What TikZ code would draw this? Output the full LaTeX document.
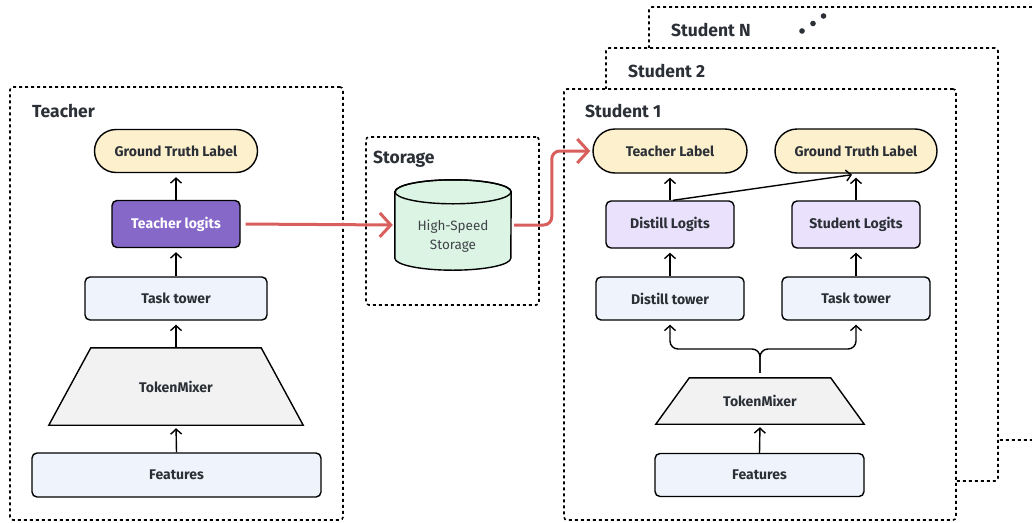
\documentclass[tikz,border=0pt]{standalone}
\usepackage{fontspec}
\setmainfont{Fira Sans}
\usetikzlibrary{arrows.meta,shapes.misc,calc}
\pgfdeclarelayer{bg}\pgfdeclarelayer{mid}
\pgfsetlayers{bg,mid,main}
\definecolor{txt}{HTML}{2B2F36}
\definecolor{yellowfill}{HTML}{FDF0CD}
\definecolor{purpledark}{HTML}{8668C9}
\definecolor{purplelight}{HTML}{EAE2FC}
\definecolor{bluefill}{HTML}{EEF3FC}
\definecolor{grayfill}{HTML}{F2F2F2}
\definecolor{greenfill}{HTML}{DCF4E3}
\definecolor{redline}{HTML}{D95F5C}
\tikzset{
  lbl/.style={font=\bfseries\fontsize{14}{16}\selectfont, text=txt},
  base/.style={lbl, draw=black, line width=1.4pt, inner sep=0pt},
  pill/.style={base, rounded rectangle, fill=yellowfill},
  towerbox/.style={base, rounded corners=5pt, fill=bluefill},
  logit/.style={base, rounded corners=5pt, fill=purplelight},
  tlogit/.style={logit, fill=purpledark, text=white},
  tmtext/.style={lbl, inner sep=0pt},
  tmshape/.style={draw=black, line width=1.4pt, fill=grayfill},
  group/.style={draw=black, line width=1.6pt, dash pattern=on 3pt off 3pt, rounded corners=3pt, inner sep=0pt},
  title/.style={font=\bfseries\fontsize{17.5}{20}\selectfont, text=txt, anchor=base west, inner sep=0pt},
  arr/.style={-{Straight Barb[length=5pt,width=11pt]}, line width=1.4pt},
  redarr/.style={-{Straight Barb[length=11pt,width=24pt]}, line width=3pt, draw=redline, rounded corners=8pt}
}
\begin{document}
\begin{tikzpicture}[x=1pt,y=-1pt]
\useasboundingbox (0,0) rectangle (1032,522);

% group boxes
\begin{pgfonlayer}{bg}
\node[group, fill=white, minimum width=392, minimum height=433] (stN) at (845,223.5) {};
\node[group, fill=white, minimum width=392, minimum height=433] (st2) at (802,264.5) {};
\node[group, fill=white, minimum width=392, minimum height=431] (st1) at (760,304.5) {};
\node[group, minimum width=333, minimum height=433] (teacherbox) at (176.5,303.5) {};
\node[group, minimum width=173, minimum height=168] (storagebox) at (452.5,221) {};
\end{pgfonlayer}

\node[title] (tN) at (671,36) {Student N};
\node[title] (t2) at (628,77) {Student 2};
\node[title] (t1) at (585,117) {Student 1};
\node[title] (tT) at (32,117) {Teacher};
\node[title] (tS) at (373,163) {Storage};

\fill[txt] (802,31) circle[radius=2.8pt];
\fill[txt] (813,23.5) circle[radius=2.8pt];
\fill[txt] (823.5,16) circle[radius=2.8pt];

% Teacher
\node[pill, minimum width=163, minimum height=43] (tgt) at (176,151) {Ground Truth Label};
\node[tlogit, minimum width=128, minimum height=47] (tlog) at (176,224) {Teacher logits};
\node[towerbox, minimum width=182, minimum height=43] (ttask) at (176,298.5) {Task tower};
\node[tmtext, minimum width=254, minimum height=77] (ttm) at (176,386.5) {TokenMixer};
\node[towerbox, minimum width=289, minimum height=44] (tfeat) at (176.5,475) {Features};
\begin{pgfonlayer}{mid}
\draw[tmshape] (ttm.south west) -- (ttm.south east) -- ([xshift=-42pt]ttm.north east) -- ([xshift=42pt]ttm.north west) -- cycle;
\end{pgfonlayer}
\draw[arr, shorten >=4pt] (tlog.north) -- (tgt.south);
\draw[arr, shorten >=4pt] (ttask.north) -- (tlog.south);
\draw[arr, shorten >=4pt] (ttm.north) -- (ttask.south);
\draw[arr, shorten >=3pt] (tfeat.north) -- (ttm.south);

% Storage
\node[minimum width=116, minimum height=90, inner sep=0pt] (cyl) at (453,225) {};
\begin{pgfonlayer}{mid}
\draw[line width=1.4pt, fill=greenfill] ([yshift=-12pt]cyl.north west) -- ([yshift=12pt]cyl.south west)
  arc[start angle=180, end angle=360, x radius=58pt, y radius=12pt]
  -- ([yshift=-12pt]cyl.north east)
  arc[start angle=0, end angle=180, x radius=58pt, y radius=12pt] -- cycle;
\draw[line width=1.4pt] ([yshift=-12pt]cyl.north) ellipse[x radius=58pt, y radius=12pt];
\end{pgfonlayer}
\node[font=\fontsize{13.5}{19}\selectfont, text=txt!90, align=center, inner sep=0pt] (cyltext) at ([yshift=-11.5pt]cyl.center) {High-Speed\\Storage};

% Student 1
\node[pill, minimum width=154, minimum height=44] (s1tl) at (670,151) {Teacher Label};
\node[pill, minimum width=162, minimum height=44] (s1gt) at (856,151) {Ground Truth Label};
\node[logit, minimum width=128, minimum height=47] (s1dl) at (670,224.5) {Distill Logits};
\node[logit, minimum width=128, minimum height=47] (s1sl) at (856,224.5) {Student Logits};
\node[towerbox, minimum width=148, minimum height=43] (s1dt) at (670,298.5) {Distill tower};
\node[towerbox, minimum width=148, minimum height=43] (s1tt) at (856,298.5) {Task tower};
\node[tmtext, minimum width=208, minimum height=46] (s1tm) at (760,401) {TokenMixer};
\node[towerbox, minimum width=209, minimum height=43] (s1feat) at (759.5,475) {Features};
\begin{pgfonlayer}{mid}
\draw[tmshape] (s1tm.south west) -- (s1tm.south east) -- ([xshift=-33.5pt]s1tm.north east) -- ([xshift=33.5pt]s1tm.north west) -- cycle;
\end{pgfonlayer}
\coordinate (fork) at (760,349);
\draw[arr, shorten >=4pt] (s1dl.north) -- (s1tl.south);
\draw[arr, shorten >=4pt] (s1sl.north) -- (s1gt.south);
\draw[arr, shorten >=4pt] (s1dt.north) -- (s1dl.south);
\draw[arr, shorten >=4pt] (s1tt.north) -- (s1sl.south);
\draw[arr, shorten >=4pt, rounded corners=8pt] ([yshift=5pt]s1tm.north) -- (fork) -| (s1dt.south);
\draw[arr, shorten >=4pt, rounded corners=8pt] ([yshift=5pt]s1tm.north) -- (fork) -| (s1tt.south);
\draw[arr, shorten >=3pt] (s1feat.north) -- (s1tm.south);
\draw[arr] ([xshift=3pt]s1dl.north) -- ([xshift=-4pt,yshift=-1pt]s1gt.south);

% red flow
\draw[redarr, shorten <=5pt, shorten >=2pt] (tlog.east) -- (cyl.west);
\draw[redarr, shorten <=3pt, shorten >=2pt] (cyl.east) -| ($(cyl.east)!0.5!(s1tl.west)$) |- (s1tl.west);
\end{tikzpicture}
\end{document}
